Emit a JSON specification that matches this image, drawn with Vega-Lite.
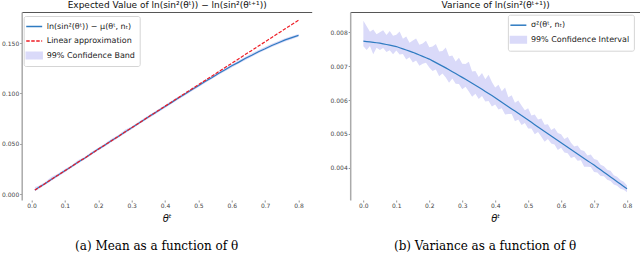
{
  "$schema": "https://vega.github.io/schema/vega-lite/v6.json",
  "background": "white",
  "padding": {"left": 0.7, "top": 0, "right": 0, "bottom": 0},
  "spacing": 17.5,
  "config": {
    "view": {"stroke": null},
    "font": "DejaVu Sans",
    "axis": {"grid": false, "labelFont": "DejaVu Sans", "labelFontSize": 6, "labelColor": "#444", "tickColor": "#777", "tickSize": 2, "tickWidth": 0.8, "labelPadding": 1, "titleFontWeight": "normal", "titleColor": "#111", "titleFont": "DejaVu Sans"},
    "legend": {"title": null, "orient": "none", "fillColor": "white", "strokeColor": "#d5d5d5", "cornerRadius": 2, "padding": 4, "labelFont": "DejaVu Sans", "labelFontSize": 8, "labelColor": "#222", "symbolSize": 121, "rowPadding": 3.5, "labelOffset": 6, "symbolStrokeWidth": 1.5, "symbolOpacity": 1}
  },
  "resolve": {"scale": {"color": "independent"}, "legend": {"color": "independent"}},
  "hconcat": [
    {
      "title": {"text": "(a) Mean as a function of θ", "orient": "bottom", "frame": "bounds", "anchor": "middle", "font": "DejaVu Serif", "fontSize": 12, "fontWeight": "normal", "color": "#000", "offset": 17},
      "width": 290,
      "height": 188,
      "data": {"values": [
        {"t": 0.01, "mean": 0.0040, "lo": 0.0028, "hi": 0.0072, "lin": 0.0040},
        {"t": 0.02, "mean": 0.0063, "lo": 0.0045, "hi": 0.0082, "lin": 0.0062},
        {"t": 0.04, "mean": 0.0104, "lo": 0.0090, "hi": 0.0118, "lin": 0.0104},
        {"t": 0.06, "mean": 0.0148, "lo": 0.0134, "hi": 0.0172, "lin": 0.0147},
        {"t": 0.08, "mean": 0.0189, "lo": 0.0176, "hi": 0.0205, "lin": 0.0190},
        {"t": 0.10, "mean": 0.0233, "lo": 0.0218, "hi": 0.0250, "lin": 0.0232},
        {"t": 0.12, "mean": 0.0274, "lo": 0.0262, "hi": 0.0288, "lin": 0.0275},
        {"t": 0.14, "mean": 0.0319, "lo": 0.0305, "hi": 0.0338, "lin": 0.0318},
        {"t": 0.16, "mean": 0.0359, "lo": 0.0346, "hi": 0.0372, "lin": 0.0360},
        {"t": 0.18, "mean": 0.0404, "lo": 0.0390, "hi": 0.0420, "lin": 0.0403},
        {"t": 0.20, "mean": 0.0447, "lo": 0.0433, "hi": 0.0460, "lin": 0.0446},
        {"t": 0.22, "mean": 0.0487, "lo": 0.0474, "hi": 0.0502, "lin": 0.0488},
        {"t": 0.24, "mean": 0.0532, "lo": 0.0518, "hi": 0.0549, "lin": 0.0531},
        {"t": 0.26, "mean": 0.0573, "lo": 0.0560, "hi": 0.0588, "lin": 0.0574},
        {"t": 0.28, "mean": 0.0617, "lo": 0.0603, "hi": 0.0640, "lin": 0.0617},
        {"t": 0.30, "mean": 0.0658, "lo": 0.0645, "hi": 0.0672, "lin": 0.0659},
        {"t": 0.32, "mean": 0.0702, "lo": 0.0688, "hi": 0.0716, "lin": 0.0702},
        {"t": 0.34, "mean": 0.0743, "lo": 0.0730, "hi": 0.0760, "lin": 0.0745},
        {"t": 0.36, "mean": 0.0787, "lo": 0.0772, "hi": 0.0800, "lin": 0.0787},
        {"t": 0.38, "mean": 0.0827, "lo": 0.0814, "hi": 0.0843, "lin": 0.0830},
        {"t": 0.40, "mean": 0.0871, "lo": 0.0856, "hi": 0.0885, "lin": 0.0873},
        {"t": 0.42, "mean": 0.0911, "lo": 0.0898, "hi": 0.0928, "lin": 0.0915},
        {"t": 0.44, "mean": 0.0955, "lo": 0.0940, "hi": 0.0970, "lin": 0.0958},
        {"t": 0.46, "mean": 0.0994, "lo": 0.0980, "hi": 0.1010, "lin": 0.1001},
        {"t": 0.48, "mean": 0.1037, "lo": 0.1022, "hi": 0.1052, "lin": 0.1043},
        {"t": 0.50, "mean": 0.1076, "lo": 0.1062, "hi": 0.1092, "lin": 0.1086},
        {"t": 0.52, "mean": 0.1118, "lo": 0.1103, "hi": 0.1135, "lin": 0.1129},
        {"t": 0.54, "mean": 0.1156, "lo": 0.1142, "hi": 0.1172, "lin": 0.1171},
        {"t": 0.56, "mean": 0.1197, "lo": 0.1182, "hi": 0.1213, "lin": 0.1214},
        {"t": 0.58, "mean": 0.1234, "lo": 0.1220, "hi": 0.1252, "lin": 0.1257},
        {"t": 0.60, "mean": 0.1274, "lo": 0.1258, "hi": 0.1290, "lin": 0.1299},
        {"t": 0.62, "mean": 0.1308, "lo": 0.1294, "hi": 0.1326, "lin": 0.1342},
        {"t": 0.64, "mean": 0.1346, "lo": 0.1330, "hi": 0.1362, "lin": 0.1385},
        {"t": 0.66, "mean": 0.1379, "lo": 0.1364, "hi": 0.1398, "lin": 0.1427},
        {"t": 0.68, "mean": 0.1414, "lo": 0.1398, "hi": 0.1430, "lin": 0.1470},
        {"t": 0.70, "mean": 0.1444, "lo": 0.1430, "hi": 0.1462, "lin": 0.1513},
        {"t": 0.72, "mean": 0.1476, "lo": 0.1460, "hi": 0.1493, "lin": 0.1556},
        {"t": 0.74, "mean": 0.1503, "lo": 0.1488, "hi": 0.1520, "lin": 0.1598},
        {"t": 0.76, "mean": 0.1531, "lo": 0.1516, "hi": 0.1547, "lin": 0.1641},
        {"t": 0.78, "mean": 0.1553, "lo": 0.1538, "hi": 0.1570, "lin": 0.1684},
        {"t": 0.80, "mean": 0.1576, "lo": 0.1562, "hi": 0.1590, "lin": 0.1726}
      ]},
      "resolve": {"axis": {"x": "independent"}},
      "layer": [
        {
          "mark": {"type": "area", "opacity": 1},
          "encoding": {
            "x": {"field": "t", "type": "quantitative", "scale": {"domain": [-0.0295, 0.8395], "nice": false, "zero": false},
                  "axis": {"values": [0, 0.1, 0.2, 0.3, 0.4, 0.5, 0.6, 0.7, 0.8], "format": ".1f", "domain": false, "title": "θᵗ", "titleFontSize": 10, "titleFontStyle": "italic", "titlePadding": 5}},
            "y": {"field": "lo", "type": "quantitative", "scale": {"domain": [-0.0058, 0.1808], "nice": false, "zero": false},
                  "axis": {"values": [0, 0.025, 0.05, 0.075, 0.1, 0.125, 0.15, 0.175], "format": ".3f", "title": null, "domainColor": "#aaa", "domainWidth": 1.5, "minExtent": 20, "maxExtent": 20}},
            "y2": {"field": "hi"},
            "color": {"datum": "99% Confidence Band",
                      "scale": {"domain": ["ln(sin²(θᵗ)) − μ(θᵗ, nₜ)", "Linear approximation", "99% Confidence Band"], "range": ["#2f7bc1", "#ee1c25", "#dadaf9"]},
                      "legend": {"legendX": 2, "legendY": 4,
                        "symbolType": {"expr": "datum.value === '99% Confidence Band' ? 'M-1.45,-0.6H1.45V0.6H-1.45Z' : 'M-1.45,0H1.45'"},
                        "symbolStrokeColor": {"expr": "datum.value === '99% Confidence Band' ? '#dadaf9' : (datum.value === 'Linear approximation' ? '#ee1c25' : '#2f7bc1')"},
                        "symbolDash": {"expr": "datum.value === 'Linear approximation' ? [3.5, 1.5] : [1, 0]"}}}
          }
        },
        {
          "mark": {"type": "line", "strokeWidth": 1.2},
          "encoding": {
            "x": {"field": "t", "type": "quantitative", "axis": null},
            "y": {"field": "mean", "type": "quantitative"},
            "color": {"datum": "ln(sin²(θᵗ)) − μ(θᵗ, nₜ)"}
          }
        },
        {
          "mark": {"type": "line", "strokeWidth": 1.2, "strokeDash": [3.5, 1.5]},
          "encoding": {
            "x": {"field": "t", "type": "quantitative", "axis": null},
            "y": {"field": "lin", "type": "quantitative"},
            "color": {"datum": "Linear approximation"}
          }
        },
        {
          "mark": {"type": "line", "opacity": 0},
          "encoding": {
            "x": {"field": "t", "type": "quantitative",
                  "axis": {"orient": "top", "title": "Expected Value of ln(sin²(θᵗ)) − ln(sin²(θᵗ⁺¹))", "labels": false, "ticks": false, "domain": true, "domainColor": "#555", "domainWidth": 1, "titleFontSize": 9, "titlePadding": 3}},
            "y": {"field": "mean", "type": "quantitative"}
          }
        }
      ]
    },
    {
      "title": {"text": "(b) Variance as a function of θ", "orient": "bottom", "frame": "bounds", "anchor": "middle", "font": "DejaVu Serif", "fontSize": 12, "fontWeight": "normal", "color": "#000", "offset": 17},
      "width": 290,
      "height": 188,
      "data": {"values": [
        {"t": 0.00, "v": 0.007740, "lo": 0.007590, "hi": 0.008340},
        {"t": 0.01, "v": 0.007728, "lo": 0.007478, "hi": 0.008178},
        {"t": 0.02, "v": 0.007716, "lo": 0.007596, "hi": 0.008016},
        {"t": 0.03, "v": 0.007704, "lo": 0.007354, "hi": 0.008084},
        {"t": 0.04, "v": 0.007692, "lo": 0.007542, "hi": 0.007942},
        {"t": 0.05, "v": 0.007680, "lo": 0.007480, "hi": 0.008000},
        {"t": 0.06, "v": 0.007660, "lo": 0.007540, "hi": 0.008060},
        {"t": 0.07, "v": 0.007640, "lo": 0.007420, "hi": 0.007920},
        {"t": 0.08, "v": 0.007620, "lo": 0.007470, "hi": 0.008040},
        {"t": 0.09, "v": 0.007600, "lo": 0.007350, "hi": 0.007900},
        {"t": 0.10, "v": 0.007580, "lo": 0.007460, "hi": 0.007930},
        {"t": 0.11, "v": 0.007546, "lo": 0.007346, "hi": 0.008026},
        {"t": 0.12, "v": 0.007512, "lo": 0.007362, "hi": 0.007812},
        {"t": 0.13, "v": 0.007478, "lo": 0.007198, "hi": 0.007878},
        {"t": 0.14, "v": 0.007444, "lo": 0.007264, "hi": 0.007694},
        {"t": 0.15, "v": 0.007410, "lo": 0.007110, "hi": 0.007760},
        {"t": 0.16, "v": 0.007370, "lo": 0.007170, "hi": 0.007820},
        {"t": 0.17, "v": 0.007330, "lo": 0.007010, "hi": 0.007630},
        {"t": 0.18, "v": 0.007290, "lo": 0.007070, "hi": 0.007670},
        {"t": 0.19, "v": 0.007250, "lo": 0.007100, "hi": 0.007750},
        {"t": 0.20, "v": 0.007210, "lo": 0.006960, "hi": 0.007560},
        {"t": 0.21, "v": 0.007158, "lo": 0.006858, "hi": 0.007578},
        {"t": 0.22, "v": 0.007106, "lo": 0.006906, "hi": 0.007656},
        {"t": 0.23, "v": 0.007054, "lo": 0.006704, "hi": 0.007434},
        {"t": 0.24, "v": 0.007002, "lo": 0.006782, "hi": 0.007452},
        {"t": 0.25, "v": 0.006950, "lo": 0.006670, "hi": 0.007550},
        {"t": 0.26, "v": 0.006894, "lo": 0.006514, "hi": 0.007294},
        {"t": 0.27, "v": 0.006838, "lo": 0.006638, "hi": 0.007318},
        {"t": 0.28, "v": 0.006782, "lo": 0.006482, "hi": 0.007142},
        {"t": 0.29, "v": 0.006726, "lo": 0.006476, "hi": 0.007246},
        {"t": 0.30, "v": 0.006670, "lo": 0.006320, "hi": 0.007070},
        {"t": 0.31, "v": 0.006612, "lo": 0.006392, "hi": 0.007062},
        {"t": 0.32, "v": 0.006554, "lo": 0.006254, "hi": 0.007134},
        {"t": 0.33, "v": 0.006496, "lo": 0.006096, "hi": 0.006846},
        {"t": 0.34, "v": 0.006438, "lo": 0.006188, "hi": 0.006858},
        {"t": 0.35, "v": 0.006380, "lo": 0.006030, "hi": 0.006680},
        {"t": 0.36, "v": 0.006318, "lo": 0.006118, "hi": 0.006798},
        {"t": 0.37, "v": 0.006256, "lo": 0.005956, "hi": 0.006616},
        {"t": 0.38, "v": 0.006194, "lo": 0.005974, "hi": 0.006744},
        {"t": 0.39, "v": 0.006132, "lo": 0.005812, "hi": 0.006532},
        {"t": 0.40, "v": 0.006070, "lo": 0.005870, "hi": 0.006370},
        {"t": 0.41, "v": 0.006004, "lo": 0.005724, "hi": 0.006454},
        {"t": 0.42, "v": 0.005938, "lo": 0.005758, "hi": 0.006258},
        {"t": 0.43, "v": 0.005872, "lo": 0.005572, "hi": 0.006372},
        {"t": 0.44, "v": 0.005806, "lo": 0.005586, "hi": 0.006086},
        {"t": 0.45, "v": 0.005740, "lo": 0.005590, "hi": 0.006140},
        {"t": 0.46, "v": 0.005674, "lo": 0.005374, "hi": 0.005924},
        {"t": 0.47, "v": 0.005608, "lo": 0.005428, "hi": 0.005988},
        {"t": 0.48, "v": 0.005542, "lo": 0.005262, "hi": 0.005842},
        {"t": 0.49, "v": 0.005476, "lo": 0.005326, "hi": 0.005696},
        {"t": 0.50, "v": 0.005410, "lo": 0.005160, "hi": 0.005760},
        {"t": 0.51, "v": 0.005342, "lo": 0.005162, "hi": 0.005542},
        {"t": 0.52, "v": 0.005274, "lo": 0.004994, "hi": 0.005574},
        {"t": 0.53, "v": 0.005206, "lo": 0.005056, "hi": 0.005426},
        {"t": 0.54, "v": 0.005138, "lo": 0.004918, "hi": 0.005458},
        {"t": 0.55, "v": 0.005070, "lo": 0.004770, "hi": 0.005270},
        {"t": 0.56, "v": 0.005004, "lo": 0.004854, "hi": 0.005284},
        {"t": 0.57, "v": 0.004938, "lo": 0.004718, "hi": 0.005118},
        {"t": 0.58, "v": 0.004872, "lo": 0.004692, "hi": 0.005172},
        {"t": 0.59, "v": 0.004806, "lo": 0.004526, "hi": 0.005026},
        {"t": 0.60, "v": 0.004740, "lo": 0.004590, "hi": 0.004990},
        {"t": 0.61, "v": 0.004674, "lo": 0.004454, "hi": 0.004854},
        {"t": 0.62, "v": 0.004608, "lo": 0.004428, "hi": 0.004908},
        {"t": 0.63, "v": 0.004542, "lo": 0.004292, "hi": 0.004742},
        {"t": 0.64, "v": 0.004476, "lo": 0.004326, "hi": 0.004626},
        {"t": 0.65, "v": 0.004410, "lo": 0.004210, "hi": 0.004660},
        {"t": 0.66, "v": 0.004344, "lo": 0.004224, "hi": 0.004524},
        {"t": 0.67, "v": 0.004278, "lo": 0.004028, "hi": 0.004498},
        {"t": 0.68, "v": 0.004212, "lo": 0.004032, "hi": 0.004362},
        {"t": 0.69, "v": 0.004146, "lo": 0.004026, "hi": 0.004396},
        {"t": 0.70, "v": 0.004080, "lo": 0.003880, "hi": 0.004260},
        {"t": 0.71, "v": 0.004010, "lo": 0.003860, "hi": 0.004230},
        {"t": 0.72, "v": 0.003940, "lo": 0.003760, "hi": 0.004090},
        {"t": 0.73, "v": 0.003870, "lo": 0.003750, "hi": 0.004050},
        {"t": 0.74, "v": 0.003800, "lo": 0.003650, "hi": 0.003940},
        {"t": 0.75, "v": 0.003730, "lo": 0.003610, "hi": 0.003910},
        {"t": 0.76, "v": 0.003660, "lo": 0.003510, "hi": 0.003780},
        {"t": 0.77, "v": 0.003590, "lo": 0.003470, "hi": 0.003740},
        {"t": 0.78, "v": 0.003520, "lo": 0.003380, "hi": 0.003640},
        {"t": 0.79, "v": 0.003450, "lo": 0.003350, "hi": 0.003590},
        {"t": 0.80, "v": 0.003380, "lo": 0.003280, "hi": 0.003480}
      ]},
      "resolve": {"axis": {"x": "independent"}},
      "layer": [
        {
          "mark": {"type": "area", "opacity": 1},
          "encoding": {
            "x": {"field": "t", "type": "quantitative", "scale": {"domain": [-0.04, 0.84], "nice": false, "zero": false},
                  "axis": {"values": [0, 0.1, 0.2, 0.3, 0.4, 0.5, 0.6, 0.7, 0.8], "format": ".1f", "domain": false, "title": "θᵗ", "titleFontSize": 10, "titleFontStyle": "italic", "titlePadding": 5}},
            "y": {"field": "lo", "type": "quantitative", "scale": {"domain": [0.00305, 0.0086], "nice": false, "zero": false},
                  "axis": {"values": [0.004, 0.005, 0.006, 0.007, 0.008], "format": ".3f", "title": null, "domainColor": "#aaa", "domainWidth": 1.5, "minExtent": 20, "maxExtent": 20}},
            "y2": {"field": "hi"},
            "color": {"datum": "99% Confidence Interval",
                      "scale": {"domain": ["σ²(θᵗ, nₜ)", "99% Confidence Interval"], "range": ["#2f7bc1", "#dadaf9"]},
                      "legend": {"legendX": 157.7, "legendY": 2.7,
                        "symbolType": {"expr": "datum.value === '99% Confidence Interval' ? 'M-1.45,-0.6H1.45V0.6H-1.45Z' : 'M-1.45,0H1.45'"},
                        "symbolStrokeColor": {"expr": "datum.value === '99% Confidence Interval' ? '#dadaf9' : '#2f7bc1'"}}}
          }
        },
        {
          "mark": {"type": "line", "strokeWidth": 1.2},
          "encoding": {
            "x": {"field": "t", "type": "quantitative", "axis": null},
            "y": {"field": "v", "type": "quantitative"},
            "color": {"datum": "σ²(θᵗ, nₜ)"}
          }
        },
        {
          "mark": {"type": "line", "opacity": 0},
          "encoding": {
            "x": {"field": "t", "type": "quantitative",
                  "axis": {"orient": "top", "title": "Variance of ln(sin²(θᵗ⁺¹))", "labels": false, "ticks": false, "domain": true, "domainColor": "#555", "domainWidth": 1, "titleFontSize": 9, "titlePadding": 3}},
            "y": {"field": "v", "type": "quantitative"}
          }
        }
      ]
    }
  ]
}
